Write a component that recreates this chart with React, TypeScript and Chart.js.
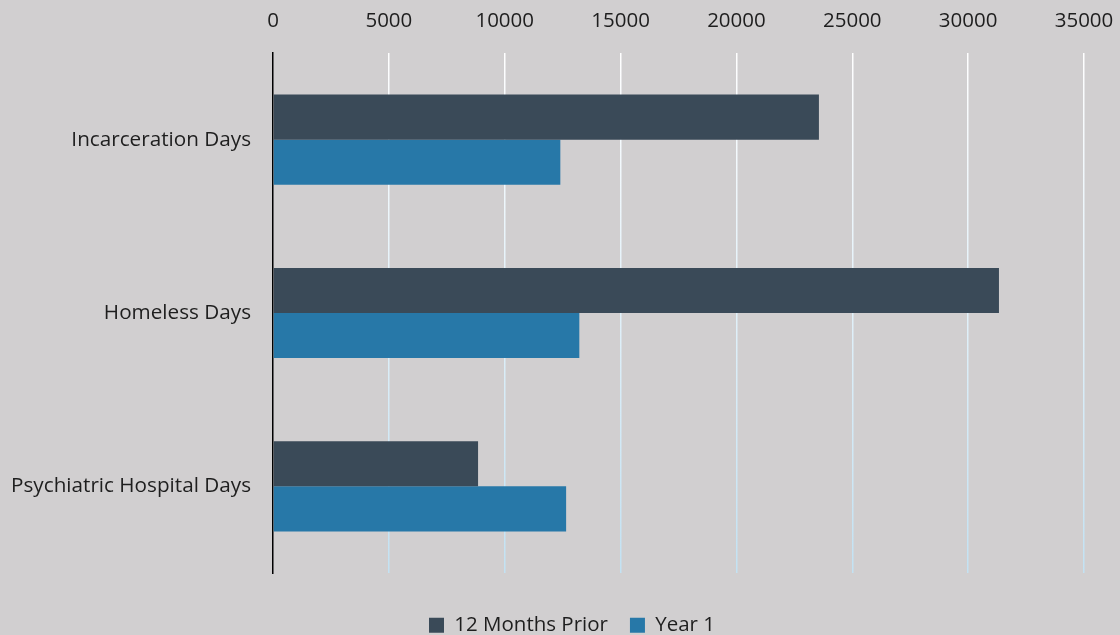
import React, { useEffect, useRef } from "react";
import { Chart, registerables } from "chart.js";

Chart.register(...registerables);

const categories = ["Incarceration Days", "Homeless Days", "Psychiatric Hospital Days"];
const priorValues = [23560, 31330, 8850];
const year1Values = [12400, 13220, 12650];
const seriesNames = ["12 Months Prior", "Year 1"];
const xMax = 35000;
const xStep = 5000;

const legendTweak = {
  id: "legendTweak",
  afterInit(chart: any) {
    const lg = chart.legend;
    if (!lg) return;
    const origFit = lg.fit.bind(lg);
    lg.fit = () => {
      origFit();
      lg.height = 62;
    };
    const origDraw = lg.draw.bind(lg);
    lg.draw = (...a: any[]) => {
      const c = chart.ctx;
      c.save();
      c.translate(12, 20);
      origDraw(...a);
      c.restore();
    };
  },
};

export default function App() {
  const ref = useRef<HTMLCanvasElement | null>(null);
  useEffect(() => {
    if (!ref.current) return;
    const gridColor = (c: any) => {
      const chart = c.chart;
      const area = chart.chartArea;
      if (!area) return "#ffffff";
      const g = chart.ctx.createLinearGradient(0, area.top, 0, area.bottom);
      g.addColorStop(0, "#ffffff");
      g.addColorStop(1, "#c2e2f3");
      return g;
    };
    const chart = new Chart(ref.current, {
      type: "bar",
      data: {
        labels: categories,
        datasets: [
          { label: seriesNames[0], data: priorValues, backgroundColor: "#3a4a58" },
          { label: seriesNames[1], data: year1Values, backgroundColor: "#2778a8" },
        ],
      },
      plugins: [legendTweak],
      options: {
        indexAxis: "y",
        animation: false,
        responsive: false,
        maintainAspectRatio: false,
        layout: { padding: 0 },
        datasets: { bar: { barPercentage: 1, categoryPercentage: 0.52 } },
        scales: {
          x: {
            position: "top",
            min: 0,
            max: xMax,
            ticks: {
              stepSize: xStep,
              color: "#1e1e1e",
              font: { family: "'Open Sans'", size: 20.5 },
              padding: 20,
              maxRotation: 0,
              callback: (v: any) => String(v),
            },
            grid: {
              color: (c: any) => (c.index === 0 ? "rgba(0,0,0,0)" : gridColor(c)),
              lineWidth: 1.5,
              drawTicks: false,
            },
            border: { display: false },
            afterFit: (s: any) => {
              s.height = 53;
              s.paddingLeft = 0;
              s.paddingRight = 36;
            },
          },
          y: {
            ticks: {
              color: "#1e1e1e",
              font: { family: "'Open Sans'", size: 20.7 },
              padding: 22,
            },
            grid: { display: false, drawTicks: false },
            border: { display: true, color: "#000000", width: 1.5 },
            afterFit: (s: any) => {
              s.width = 273;
              s.paddingTop = 0;
              s.paddingBottom = 0;
            },
          },
        },
        plugins: {
          legend: {
            position: "bottom",
            labels: {
              boxWidth: 15,
              boxHeight: 15,
              color: "#1e1e1e",
              font: { family: "'Open Sans'", size: 20.5 },
              padding: 22,
            },
          },
          tooltip: { enabled: false },
        },
      },
    });
    return () => chart.destroy();
  }, []);
  return (
    <div style={{ position: "fixed", left: 0, top: 0, width: 1120, height: 635, background: "#d1cfd0" }}>
      <canvas ref={ref} width={1120} height={635} style={{ display: "block" }} />
    </div>
  );
}
